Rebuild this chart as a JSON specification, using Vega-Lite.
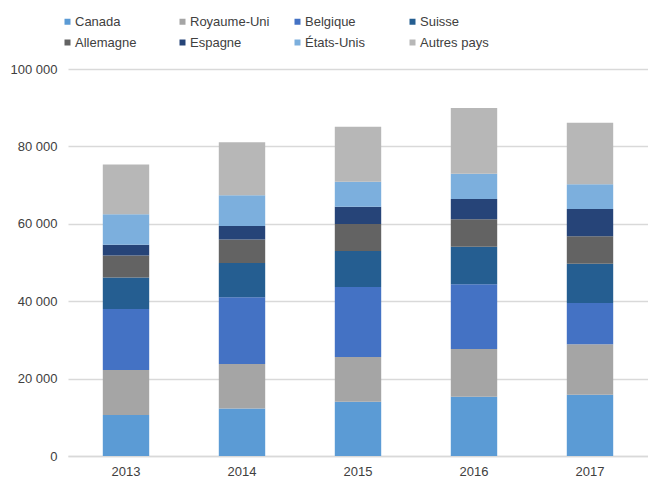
{
  "$schema": "https://vega.github.io/schema/vega-lite/v6.json",
  "autosize": "none",
  "width": 580,
  "height": 387,
  "padding": {"left": 68, "top": 69, "right": 0, "bottom": 24},
  "background": "white",
  "config": {
    "font": "Liberation Sans",
    "view": {"stroke": null},
    "locale": {"number": {"decimal": ",", "thousands": "\u00a0", "grouping": [3], "currency": ["", " €"]}}
  },
  "data": {
    "values": [
      {"annee": "2013", "pays": "Canada", "rang": 1, "valeur": 10600},
      {"annee": "2013", "pays": "Royaume-Uni", "rang": 2, "valeur": 11600},
      {"annee": "2013", "pays": "Belgique", "rang": 3, "valeur": 15800},
      {"annee": "2013", "pays": "Suisse", "rang": 4, "valeur": 8100},
      {"annee": "2013", "pays": "Allemagne", "rang": 5, "valeur": 5700},
      {"annee": "2013", "pays": "Espagne", "rang": 6, "valeur": 2800},
      {"annee": "2013", "pays": "États-Unis", "rang": 7, "valeur": 7900},
      {"annee": "2013", "pays": "Autres pays", "rang": 8, "valeur": 12800},
      {"annee": "2014", "pays": "Canada", "rang": 1, "valeur": 12300},
      {"annee": "2014", "pays": "Royaume-Uni", "rang": 2, "valeur": 11450},
      {"annee": "2014", "pays": "Belgique", "rang": 3, "valeur": 17300},
      {"annee": "2014", "pays": "Suisse", "rang": 4, "valeur": 8800},
      {"annee": "2014", "pays": "Allemagne", "rang": 5, "valeur": 6100},
      {"annee": "2014", "pays": "Espagne", "rang": 6, "valeur": 3450},
      {"annee": "2014", "pays": "États-Unis", "rang": 7, "valeur": 8000},
      {"annee": "2014", "pays": "Autres pays", "rang": 8, "valeur": 13700},
      {"annee": "2015", "pays": "Canada", "rang": 1, "valeur": 14000},
      {"annee": "2015", "pays": "Royaume-Uni", "rang": 2, "valeur": 11550},
      {"annee": "2015", "pays": "Belgique", "rang": 3, "valeur": 18100},
      {"annee": "2015", "pays": "Suisse", "rang": 4, "valeur": 9300},
      {"annee": "2015", "pays": "Allemagne", "rang": 5, "valeur": 7000},
      {"annee": "2015", "pays": "Espagne", "rang": 6, "valeur": 4450},
      {"annee": "2015", "pays": "États-Unis", "rang": 7, "valeur": 6450},
      {"annee": "2015", "pays": "Autres pays", "rang": 8, "valeur": 14200},
      {"annee": "2016", "pays": "Canada", "rang": 1, "valeur": 15300},
      {"annee": "2016", "pays": "Royaume-Uni", "rang": 2, "valeur": 12350},
      {"annee": "2016", "pays": "Belgique", "rang": 3, "valeur": 16700},
      {"annee": "2016", "pays": "Suisse", "rang": 4, "valeur": 9700},
      {"annee": "2016", "pays": "Allemagne", "rang": 5, "valeur": 7100},
      {"annee": "2016", "pays": "Espagne", "rang": 6, "valeur": 5250},
      {"annee": "2016", "pays": "États-Unis", "rang": 7, "valeur": 6550},
      {"annee": "2016", "pays": "Autres pays", "rang": 8, "valeur": 17000},
      {"annee": "2017", "pays": "Canada", "rang": 1, "valeur": 15800},
      {"annee": "2017", "pays": "Royaume-Uni", "rang": 2, "valeur": 13100},
      {"annee": "2017", "pays": "Belgique", "rang": 3, "valeur": 10650},
      {"annee": "2017", "pays": "Suisse", "rang": 4, "valeur": 10150},
      {"annee": "2017", "pays": "Allemagne", "rang": 5, "valeur": 7100},
      {"annee": "2017", "pays": "Espagne", "rang": 6, "valeur": 7000},
      {"annee": "2017", "pays": "États-Unis", "rang": 7, "valeur": 6450},
      {"annee": "2017", "pays": "Autres pays", "rang": 8, "valeur": 15850}
    ]
  },
  "mark": {"type": "bar"},
  "encoding": {
    "x": {
      "field": "annee",
      "type": "nominal",
      "scale": {"paddingInner": 0.6, "paddingOuter": 0.3},
      "axis": {
        "title": null,
        "labelAngle": 0,
        "labelFontSize": 13,
        "labelColor": "#404040",
        "labelPadding": 9,
        "ticks": false,
        "domainColor": "#d9d9d9",
        "domainWidth": 1.5
      }
    },
    "y": {
      "field": "valeur",
      "type": "quantitative",
      "aggregate": "sum",
      "stack": "zero",
      "scale": {"domain": [0, 100000]},
      "axis": {
        "title": null,
        "values": [0, 20000, 40000, 60000, 80000, 100000],
        "format": ",d",
        "labelFontSize": 13,
        "labelColor": "#404040",
        "labelPadding": 11,
        "ticks": false,
        "domain": false,
        "gridColor": "#d9d9d9",
        "gridWidth": 1.5
      }
    },
    "color": {
      "field": "pays",
      "type": "nominal",
      "scale": {
        "domain": ["Canada", "Royaume-Uni", "Belgique", "Suisse", "Allemagne", "Espagne", "États-Unis", "Autres pays"],
        "range": ["#5B9BD5", "#A5A5A5", "#4472C4", "#255E91", "#636363", "#264478", "#7CAFDD", "#B7B7B7"]
      },
      "legend": {
        "title": null,
        "orient": "none",
        "legendX": -7,
        "legendY": -54,
        "direction": "horizontal",
        "columns": 4,
        "gridAlign": "all",
        "columnPadding": 21,
        "rowPadding": 7,
        "symbolType": "square",
        "symbolSize": 36,
        "symbolStrokeWidth": 0,
        "labelOffset": 1,
        "labelFontSize": 13,
        "labelColor": "#404040"
      }
    },
    "order": {"field": "rang", "type": "quantitative", "sort": "ascending"}
  }
}
